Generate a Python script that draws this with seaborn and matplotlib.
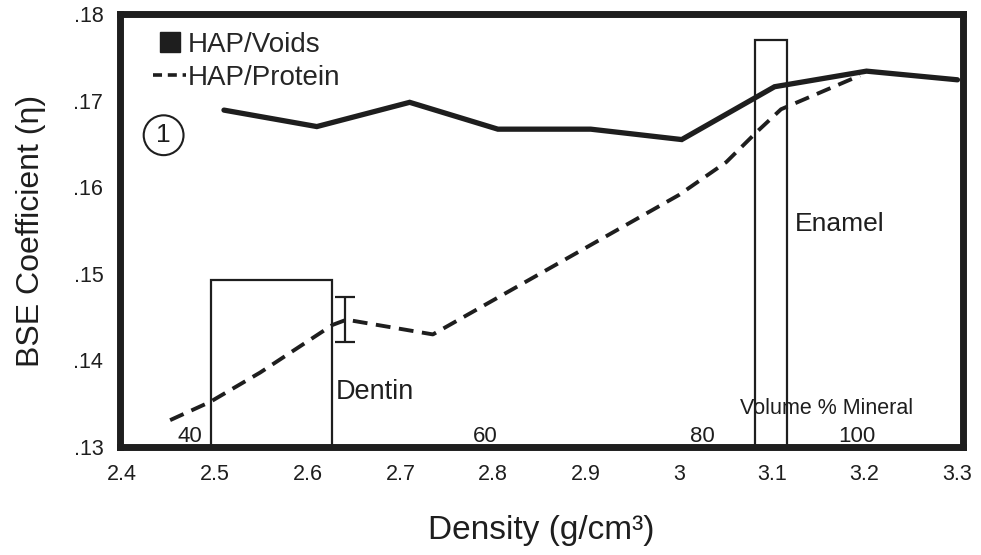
import matplotlib
matplotlib.use("Agg")
import matplotlib.pyplot as plt
from matplotlib.lines import Line2D
import seaborn as sns
import pandas as pd

sns.set_style("white")
plt.rcParams['font.family'] = ['Liberation Sans', 'DejaVu Sans']

# HAP/Voids (solid line)
voids_density = [2.51, 2.61, 2.71, 2.805, 2.905, 3.003, 3.103, 3.202, 3.30]
voids_bse = [0.1689, 0.1670, 0.1698, 0.1667, 0.1667, 0.1655, 0.1716, 0.1734, 0.1724]

# HAP/Protein (dashed line)
protein_density = [2.452, 2.495, 2.549, 2.627, 2.642, 2.735, 3.0, 3.051, 3.084, 3.11, 3.195]
protein_bse = [0.1331, 0.1352, 0.1386, 0.1441, 0.1447, 0.1430, 0.1591, 0.1629, 0.1664, 0.1690, 0.1729]

# error bar on the protein curve
err_x = 2.640
err_lo = 0.1421
err_hi = 0.1473

# tissue ranges (boxes)
tissue_names = ['Dentin', 'Enamel']
tissue_left = [2.496, 3.082]
tissue_right = [2.626, 3.116]
tissue_top = [0.1493, 0.1770]

# volume % mineral scale along the bottom
vol_pct = ['40', '60', '80', '100']
vol_density = [2.473, 2.791, 3.025, 3.192]

x_ticks = [2.4, 2.5, 2.6, 2.7, 2.8, 2.9, 3.0, 3.1, 3.2, 3.3]
x_ticklabels = ['2.4', '2.5', '2.6', '2.7', '2.8', '2.9', '3', '3.1', '3.2', '3.3']
y_ticks = [0.13, 0.14, 0.15, 0.16, 0.17, 0.18]
y_ticklabels = ['.13', '.14', '.15', '.16', '.17', '.18']

ink = '#1e1e1e'

fig = plt.figure(figsize=(9.81, 5.55), dpi=100)
ax = fig.add_axes([0.1223, 0.1946, 0.8594, 0.7802])

voids = pd.DataFrame({'density': voids_density, 'bse': voids_bse})
protein = pd.DataFrame({'density': protein_density, 'bse': protein_bse})

sns.lineplot(data=voids, x='density', y='bse', ax=ax, color=ink, lw=3.8,
             sort=False, solid_joinstyle='miter')
sns.lineplot(data=protein, x='density', y='bse', ax=ax, color=ink, lw=2.8,
             sort=False, dashes=False, linestyle=(0, (3.8, 2.2)))

# error bar
ax.errorbar([err_x], [(err_lo + err_hi) / 2], yerr=[(err_hi - err_lo) / 2],
            fmt='none', ecolor=ink, elinewidth=1.6, capsize=7, capthick=1.6)

# tissue boxes
widths = [r - l for l, r in zip(tissue_left, tissue_right)]
heights = [t - 0.13 for t in tissue_top]
ax.bar(tissue_left, heights, width=widths, bottom=0.13, align='edge',
       fill=False, edgecolor=ink, linewidth=1.6, zorder=1)

ax.text(tissue_right[0] + 0.004, 0.1363, tissue_names[0], fontsize=19.5,
        color=ink, va='center', ha='left')
ax.text(tissue_right[1] + 0.009, 0.1557, tissue_names[1], fontsize=19,
        color=ink, va='center', ha='left')

for lab, xv in zip(vol_pct, vol_density):
    ax.text(xv, 0.1312, lab, fontsize=16, color=ink, ha='center', va='center')
ax.text(3.159, 0.1344, 'Volume % Mineral', fontsize=15.5, color=ink,
        ha='center', va='center')

# circled figure number
ax.text(2.445, 0.1660, '1', fontsize=19, color=ink, ha='center', va='center',
        bbox=dict(boxstyle='circle,pad=0.3', fc='none', ec=ink, lw=1.5))

# legend
handles = [
    Line2D([], [], marker='s', color=ink, linestyle='none', markersize=15),
    Line2D([], [], color=ink, lw=2.6, linestyle=(0, (2.5, 1.6))),
]
ax.legend(handles, ['HAP/Voids', 'HAP/Protein'], loc='upper left',
          bbox_to_anchor=(0.026, 0.985), frameon=False, fontsize=20,
          handlelength=1.2, handletextpad=0.05, labelspacing=0.25,
          borderaxespad=0.0)

ax.set_xlim(2.398, 3.306)
ax.set_ylim(0.13, 0.18)
ax.set_xticks(x_ticks)
ax.set_xticklabels(x_ticklabels)
ax.set_yticks(y_ticks)
ax.set_yticklabels(y_ticklabels)
ax.tick_params(axis='both', length=0, labelsize=15.5, colors=ink)
ax.tick_params(axis='x', pad=12)
ax.tick_params(axis='y', pad=12)

for side in ['left', 'right', 'top', 'bottom']:
    ax.spines[side].set_visible(True)
    ax.spines[side].set_linewidth(5)
    ax.spines[side].set_color(ink)

ax.set_xlabel('Density (g/cm³)', fontsize=24, color=ink, labelpad=22)
ax.set_ylabel('BSE Coefficient (η)', fontsize=23, color=ink, labelpad=20)

fig.savefig('out.png', dpi=100)
